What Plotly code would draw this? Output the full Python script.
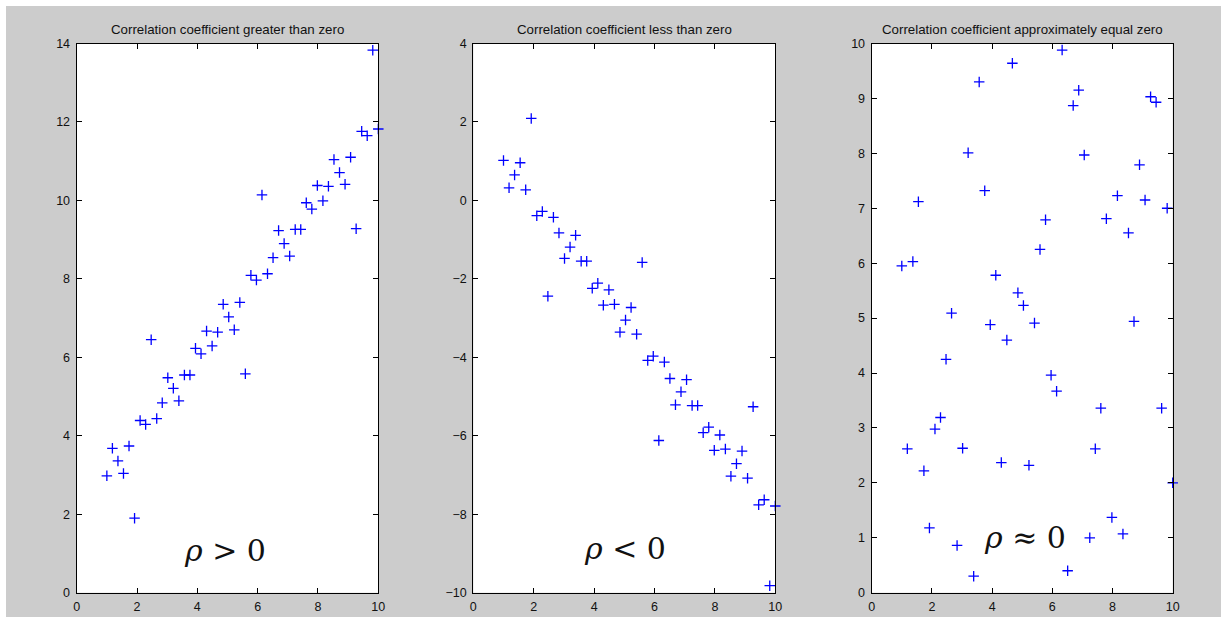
import numpy as np
import plotly.graph_objects as go

W, H = 1221, 618

x_vals = [round(v, 4) for v in np.linspace(1, 10, 50)]

y_pos = [2.98, 3.68, 3.36, 3.04, 3.74, 1.90, 4.39, 4.29, 6.45, 4.44,
         4.84, 5.48, 5.21, 4.89, 5.55, 5.55, 6.23, 6.09, 6.67, 6.29,
         6.64, 7.35, 7.03, 6.70, 7.40, 5.58, 8.09, 7.97, 10.14, 8.13,
         8.54, 9.23, 8.90, 8.58, 9.26, 9.26, 9.94, 9.78, 10.38, 9.99,
         10.36, 11.04, 10.71, 10.41, 11.10, 9.28, 11.76, 11.65, 13.83, 11.82]

y_neg = [1.02, 0.32, 0.65, 0.96, 0.27, 2.09, -0.39, -0.28, -2.44, -0.43,
         -0.83, -1.48, -1.19, -0.89, -1.55, -1.55, -2.24, -2.11, -2.67, -2.28,
         -2.65, -3.36, -3.05, -2.73, -3.41, -1.58, -4.08, -3.97, -6.12, -4.12,
         -4.54, -5.21, -4.88, -4.57, -5.23, -5.23, -5.92, -5.78, -6.37, -5.98,
         -6.34, -7.03, -6.71, -6.39, -7.08, -5.26, -7.76, -7.63, -9.82, -7.79]

y_zero = [5.95, 2.62, 6.03, 7.12, 2.22, 1.18, 2.98, 3.19, 4.25, 5.09,
          0.86, 2.63, 8.01, 0.30, 9.30, 7.32, 4.88, 5.78, 2.37, 4.60,
          9.64, 5.46, 5.23, 2.32, 4.91, 6.25, 6.79, 3.96, 3.67, 9.88,
          0.40, 8.87, 9.15, 7.97, 1.00, 2.62, 3.36, 6.81, 1.37, 7.23,
          1.07, 6.55, 4.94, 7.79, 7.15, 9.03, 8.93, 3.36, 7.00, 2.00]

titles = ["Correlation coefficient greater than zero",
          "Correlation coefficient less than zero",
          "Correlation coefficient approximately equal zero"]
labels = ["<i>ρ</i> > 0", "<i>ρ</i> < 0", "<i>ρ</i> ≈ 0"]
label_pos = [(4.92, 1.07), (5.02, -8.88), (5.09, 1.0)]
y_ranges = [(0, 14), (-10, 4), (0, 10)]
y_dticks = [2, 2, 1]
series = [y_pos, y_neg, y_zero]

x_px = [(76.7, 378.3), (473.3, 775.3), (871.7, 1172.7)]
top_px, bot_px = 43.5, 592.7
ydom = [(H - bot_px) / H, (H - top_px) / H]

fig = go.Figure()
layout = dict(
    template="none",
    width=W, height=H,
    margin=dict(l=0, r=0, t=0, b=0, autoexpand=False),
    paper_bgcolor="white", plot_bgcolor="white",
    showlegend=False,
    font=dict(family="Liberation Sans, Arial, sans-serif", size=12, color="#111111"),
)
annotations = []
shapes = [dict(type="rect", xref="paper", yref="paper", x0=6 / W, x1=1.0,
               y0=(H - 617) / H, y1=(H - 6) / H, fillcolor="#cccccc",
               line=dict(width=0), layer="below")]

for i in range(3):
    sfx = "" if i == 0 else str(i + 1)
    xa, ya = "x" + sfx, "y" + sfx
    fig.add_trace(go.Scatter(
        x=x_vals, y=series[i], mode="markers", xaxis=xa, yaxis=ya,
        cliponaxis=False,
        marker=dict(symbol="cross-thin-open", size=7.5, color="#0000ff",
                    line=dict(color="#0000ff", width=1.3)),
    ))
    shapes.append(dict(type="rect", xref="paper", yref="paper",
                       x0=x_px[i][0] / W, x1=x_px[i][1] / W,
                       y0=ydom[0], y1=ydom[1], fillcolor="white",
                       line=dict(width=0), layer="below"))
    common = dict(showgrid=False, zeroline=False, showline=True, linecolor="#000000",
                  linewidth=1.3, mirror="ticks", ticks="inside", ticklen=5,
                  tickcolor="#000000", tickwidth=1, automargin=False,
                  tickfont=dict(family="Liberation Sans, Arial, sans-serif", size=12.5, color="#111111"))
    layout["xaxis" + sfx] = dict(domain=[x_px[i][0] / W, x_px[i][1] / W], range=[0, 10],
                                 dtick=2, tick0=0, anchor=ya, ticklabelstandoff=2, **common)
    layout["yaxis" + sfx] = dict(domain=ydom, range=list(y_ranges[i]), dtick=y_dticks[i],
                                 tick0=0, anchor=xa, ticklabelstandoff=3, **common)
    annotations.append(dict(text=titles[i], xref="paper", yref="paper",
                            x=(x_px[i][0] + x_px[i][1]) / 2 / W, y=(H - 29) / H,
                            xanchor="center", yanchor="middle", showarrow=False,
                            font=dict(family="Liberation Sans, Arial, sans-serif", size=13.3, color="#111111")))
    annotations.append(dict(text=labels[i], xref=xa, yref=ya,
                            x=label_pos[i][0], y=label_pos[i][1],
                            xanchor="center", yanchor="middle", showarrow=False,
                            font=dict(family="DejaVu Serif, serif", size=30, color="#111111")))

layout["annotations"] = annotations
layout["shapes"] = shapes
fig.update_layout(**layout)
fig.write_html("out.html")
